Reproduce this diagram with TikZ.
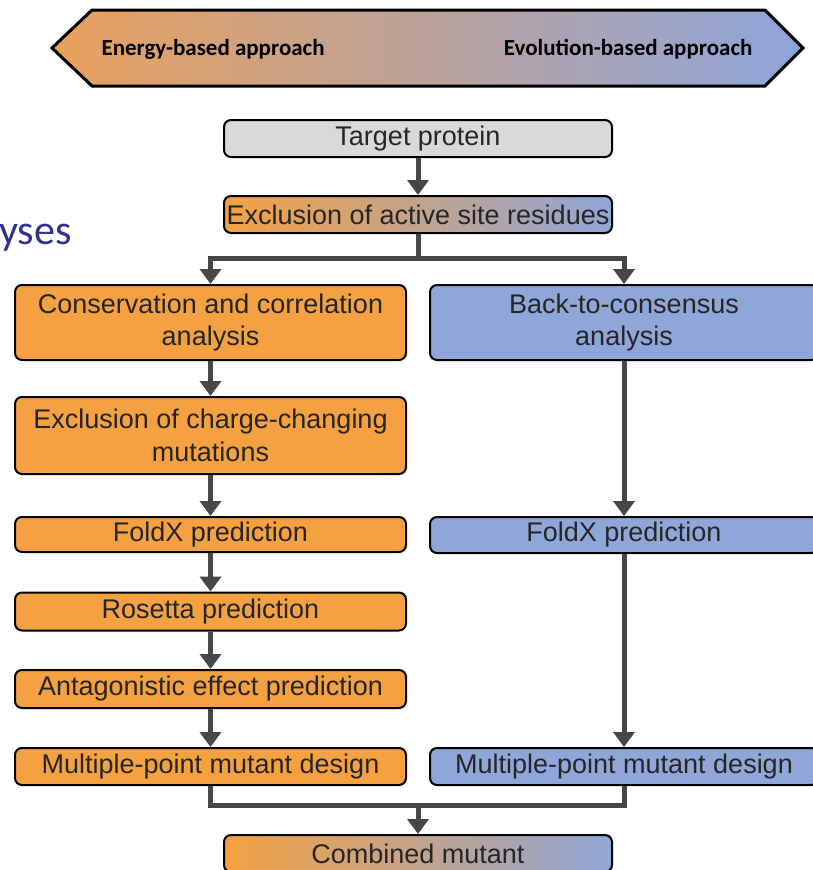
\documentclass[tikz,border=0pt]{standalone}
\usepackage{fontspec}
\setmainfont{Liberation Sans}
\newfontfamily\bannerfont{Carlito}
\usetikzlibrary{arrows.meta}

\definecolor{energy}{HTML}{F5A142}
\definecolor{evol}{HTML}{8FA6D8}
\definecolor{targetgray}{HTML}{D9D9D9}
\definecolor{flowgray}{HTML}{474747}
\definecolor{slideblue}{HTML}{2E3192}
\definecolor{bannerleft}{HTML}{E9A05C}
\definecolor{bannerright}{HTML}{8EA5DB}

\begin{document}
\begin{tikzpicture}[x=1pt,y=-1pt,
  box/.style={draw=black, line width=2pt, rounded corners=7pt, align=center,
    inner sep=0pt, font=\fontsize{27}{32.5}\selectfont, text=black!85},
  lbox/.style={box, fill=energy, minimum width=391pt},
  rbox/.style={box, fill=evol, minimum width=388pt},
  cbox/.style={box, minimum width=388pt},
  mixbox/.style={cbox, left color=energy, right color=evol},
  flow/.style={draw=flowgray, line width=5pt, -{Triangle[length=15pt,width=21pt]}},
  link/.style={draw=flowgray, line width=5pt}]

\useasboundingbox (0,0) rectangle (813,870);

% banner
\draw[line width=3pt, left color=bannerleft, right color=bannerright]
  (52,48) -- (92,10) -- (765,10) -- (803,48) -- (765,86) -- (92,86) -- cycle;
\node[anchor=west, font=\bannerfont\bfseries\fontsize{23}{28}\selectfont] (energytxt) at (98,49) {Energy-based approach};
\node[anchor=east, font=\bannerfont\bfseries\fontsize{23}{28}\selectfont] (evoltxt) at (756,49) {Evolution-based approach};

% slide title fragment
\node[anchor=base west, inner sep=0pt, text=slideblue, font=\bannerfont\fontsize{42}{50}\selectfont] (slidetitle) at (-1,244) {yses};

% boxes
\node[cbox, fill=targetgray, minimum height=37pt] (target) at (418,138.5) {Target protein};
\node[mixbox, minimum height=37pt] (excl) at (418,214.5) {Exclusion of active site residues};

\node[lbox, minimum height=75pt] (cons) at (210.5,322.5) {Conservation and correlation\\analysis};
\node[rbox, minimum height=75pt] (back) at (624,322.5) {Back-to-consensus\\analysis};

\node[lbox, minimum height=77pt] (charge) at (210.5,435.5) {Exclusion of charge-changing\\mutations};

\node[lbox, minimum height=35pt] (foldl) at (210.5,534.5) {FoldX prediction};
\node[rbox, minimum height=36pt] (foldr) at (624,535) {FoldX prediction};

\node[lbox, minimum height=38pt] (rosetta) at (210.5,611.5) {Rosetta prediction};
\node[lbox, minimum height=38pt] (antag) at (210.5,689) {Antagonistic effect prediction};

\node[lbox, minimum height=37pt] (multil) at (210.5,766.5) {Multiple-point mutant design};
\node[rbox, minimum height=37pt] (multir) at (624,766.5) {Multiple-point mutant design};

\node[mixbox, minimum height=37pt] (combined) at (418,853.5) {Combined mutant};

% connectors
\coordinate (split) at (418,258);
\coordinate (join) at (418,805);

\draw[flow] (target) -- (excl);
\draw[link] (excl) -- (split);
\draw[flow] (split) -| (cons);
\draw[flow] (split) -| (back);

\draw[flow] (cons) -- (charge);
\draw[flow] (charge) -- (foldl);
\draw[flow] (foldl) -- (rosetta);
\draw[flow] (rosetta) -- (antag);
\draw[flow] (antag) -- (multil);

\draw[flow] (back) -- (foldr);
\draw[flow] (foldr) -- (multir);

\draw[link] (multil) |- (join) -| (multir);
\draw[flow] (join) -- (combined);

\end{tikzpicture}
\end{document}
